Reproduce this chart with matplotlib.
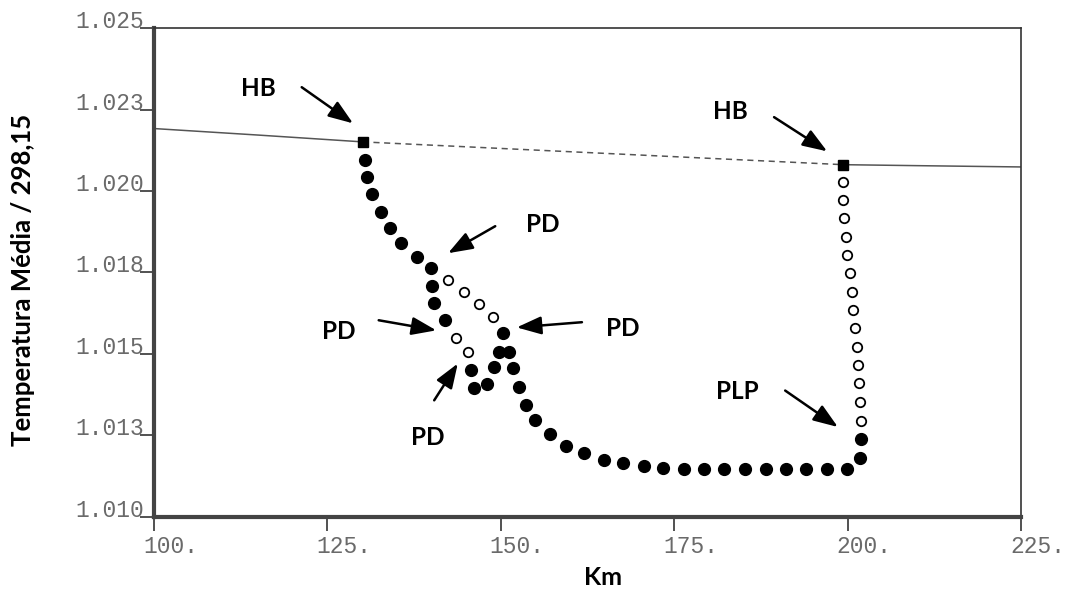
import numpy as np
import matplotlib.pyplot as plt
import matplotlib.transforms as mtransforms

# steady state branch (solid = stable, dashed = unstable)
ss_left_x = [100.0, 115.0, 130.1]
ss_left_y = [1.02192, 1.02172, 1.02151]
ss_mid_x = [130.1, 199.35]
ss_mid_y = [1.02151, 1.02081]
ss_right_x = [199.35, 210.0, 225.0]
ss_right_y = [1.02081, 1.02078, 1.02074]

# Hopf points
hb_x = [130.1, 199.35]
hb_y = [1.02151, 1.02081]

# periodic orbits, stable (filled)
stable_x = [130.43, 130.71, 131.43, 132.73, 134.03, 135.62, 137.92, 139.94,
            140.09, 140.37, 141.96, 145.71, 146.14, 148.02, 149.03, 149.75,
            150.32, 151.19, 151.77, 152.63, 153.64, 154.94, 157.10, 159.41,
            162.00, 164.89, 167.63, 170.66, 173.40, 176.43, 179.31, 182.19,
            185.22, 188.25, 191.13, 194.02, 197.05, 199.93, 201.80, 201.95]
stable_y = [1.02095, 1.02044, 1.01990, 1.01935, 1.01886, 1.01839, 1.01796, 1.01763,
            1.01707, 1.01655, 1.01603, 1.01449, 1.01394, 1.01406, 1.01458, 1.01507,
            1.01563, 1.01507, 1.01455, 1.01397, 1.01344, 1.01298, 1.01255, 1.01218,
            1.01194, 1.01175, 1.01163, 1.01154, 1.01148, 1.01145, 1.01145, 1.01145,
            1.01145, 1.01145, 1.01145, 1.01145, 1.01145, 1.01145, 1.01181, 1.01237]

# periodic orbits, unstable (open)
unstable_x = [143.55, 145.28, 142.39, 144.70, 146.86, 148.88,
              201.95, 201.80, 201.65, 201.51, 201.37, 201.08, 200.79,
              200.63, 200.36, 199.93, 199.78, 199.50, 199.35, 199.35]
unstable_y = [1.01550, 1.01504, 1.01726, 1.01689, 1.01652, 1.01612,
              1.01295, 1.01351, 1.01409, 1.01464, 1.01520, 1.01578, 1.01633,
              1.01689, 1.01747, 1.01803, 1.01858, 1.01916, 1.01972, 1.02027]

x_ticks = [100, 125, 150, 175, 200, 225]
x_labels = ["100.", "125.", "150.", "175.", "200.", "225."]
y_ticks = [1.010, 1.0125, 1.015, 1.0175, 1.020, 1.0225, 1.025]
y_labels = ["1.010", "1.013", "1.015", "1.018", "1.020", "1.023", "1.025"]

# label, text position, arrow tail, arrow tip
notes = [
    ("HB", (115.0, 1.02316), (121.3, 1.02319), (128.7, 1.02208)),
    ("HB", (183.1, 1.02245), (189.4, 1.02227), (197.05, 1.02122)),
    ("PD", (156.1, 1.01898), (149.2, 1.01892), (142.4, 1.01809)),
    ("PD", (126.7, 1.01569), (132.4, 1.01603), (140.7, 1.01572)),
    ("PD", (167.6, 1.01578), (161.7, 1.01597), (152.3, 1.01581)),
    ("PD", (139.5, 1.01243), (140.4, 1.01357), (143.8, 1.01470)),
    ("PLP", (184.1, 1.01384), (191.0, 1.01387), (198.6, 1.01275)),
]

fig = plt.figure(figsize=(10.67, 5.92), dpi=100)
ax = fig.add_axes([0.1443, 0.1275, 0.8126, 0.8247])

line_col = "#555555"
ax.plot(ss_left_x, ss_left_y, color=line_col, lw=1.1)
ax.plot(ss_mid_x, ss_mid_y, color=line_col, lw=1.1, ls=(0, (4, 3)))
ax.plot(ss_right_x, ss_right_y, color=line_col, lw=1.1)

ax.plot(stable_x, stable_y, "o", color="black", ms=8.5, mec="black", ls="none")
ax.plot(unstable_x, unstable_y, "o", mfc="white", mec="black", mew=1.3, ms=6.8, ls="none")
ax.plot(hb_x, hb_y, "s", color="black", ms=7.5, ls="none")

for txt, pos, tail, tip in notes:
    ax.text(pos[0], pos[1], txt, ha="center", va="center", fontsize=17.5,
            fontweight="bold", family="Lato")
    ax.annotate("", xy=tip, xytext=tail,
                arrowprops=dict(arrowstyle="-|>,head_length=1.5,head_width=0.55",
                                color="black", lw=1.8, shrinkA=0, shrinkB=0))

ax.set_xlim(100, 225)
ax.set_ylim(1.010, 1.025)

ax.set_xticks(x_ticks)
ax.set_xticklabels(x_labels, family="Liberation Mono", fontsize=16.5, color="#6a6a6a")
ax.set_yticks(y_ticks)
ax.set_yticklabels(y_labels, family="Liberation Mono", fontsize=16.5, color="#6a6a6a")
ax.tick_params(axis="x", direction="out", length=10, width=1.2, color="#333333", pad=3)
ax.tick_params(axis="y", direction="out", length=10, width=1.2, color="#333333", pad=-3)

shift = mtransforms.ScaledTranslation(-11 / 100, 0, fig.dpi_scale_trans)
for lab in ax.get_xticklabels():
    lab.set_horizontalalignment("left")
    lab.set_transform(lab.get_transform() + shift)
for lab in ax.get_yticklabels():
    lab.set_verticalalignment("baseline")

for side in ["top", "right"]:
    ax.spines[side].set_color("#333333")
    ax.spines[side].set_linewidth(1.2)
for side in ["left", "bottom"]:
    ax.spines[side].set_color("#444444")
    ax.spines[side].set_linewidth(3.0)
# inner light stroke to give the doubled axis look
ax.plot([0, 0], [0, 1], transform=ax.transAxes, color="#bbbbbb", lw=0.8, clip_on=False)
ax.plot([0, 1], [0, 0], transform=ax.transAxes, color="#bbbbbb", lw=0.8, clip_on=False)

ax.set_xlabel("Km", fontsize=18, fontweight="bold", family="Lato")
ax.set_ylabel("Temperatura Média / 298,15", fontsize=18.5, fontweight="bold", family="Lato")
ax.xaxis.set_label_coords(0.518, -0.124)
ax.yaxis.set_label_coords(-0.151, 0.485)
ax.xaxis.label.set_va("center")
ax.yaxis.label.set_va("center")
ax.yaxis.label.set_ha("center")

fig.savefig("out.png", dpi=100)
